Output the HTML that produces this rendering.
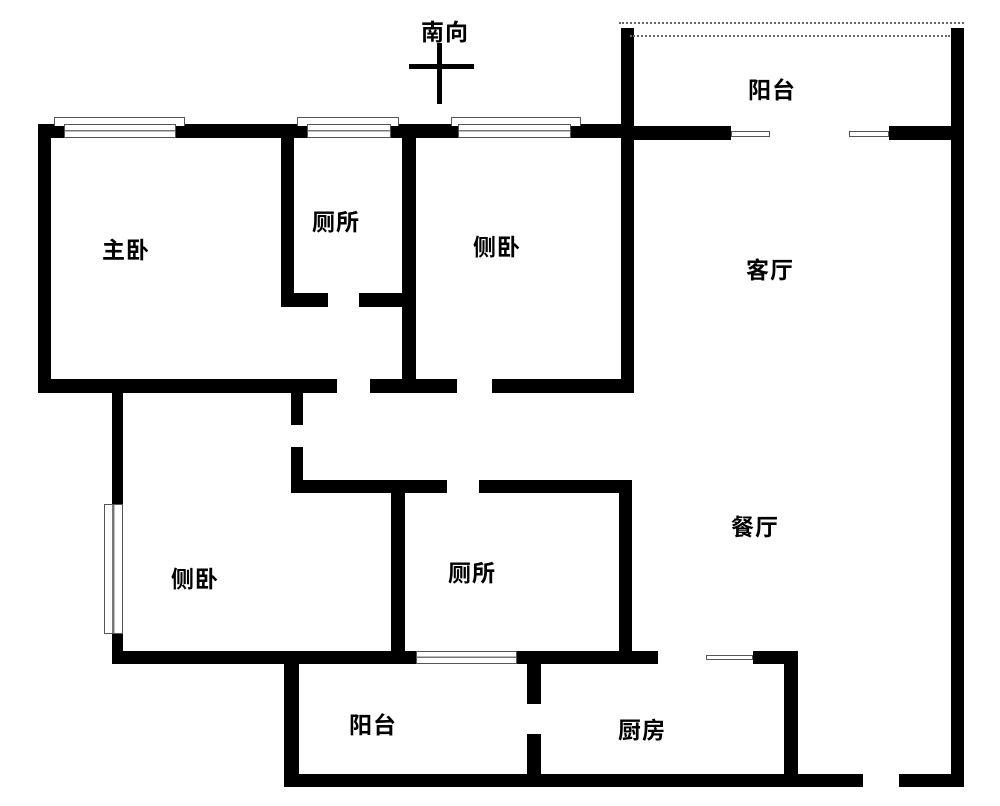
<!DOCTYPE html>
<html><head><meta charset="utf-8"><style>
body{margin:0;width:1000px;height:806px;background:#fff;position:relative;overflow:hidden;font-family:"Liberation Sans","Noto Sans CJK SC",sans-serif}
.w{position:absolute;background:#000}
.win{position:absolute;background:#fff;border:1px solid #555;box-sizing:border-box}
.win.h{background:linear-gradient(#fff 40%,#777 40%,#777 55%,#fff 55%)}
.win.v{background:linear-gradient(90deg,#fff 40%,#777 40%,#777 55%,#fff 55%)}
.t{position:absolute;font-size:23px;font-weight:bold;color:#000;transform:translate(-50%,-50%);white-space:nowrap;letter-spacing:1px}
.d{position:absolute;border-top:2px dotted #666}
</style></head><body>
<div class="w" style="left:38px;top:124px;width:593px;height:14px"></div>
<div class="w" style="left:626px;top:126px;width:105px;height:14px"></div>
<div class="w" style="left:889px;top:126px;width:66px;height:14px"></div>
<div class="win" style="left:54px;top:117px;width:131px;height:9px;border-bottom:none"></div>
<div class="win h" style="left:64px;top:124px;width:112px;height:14px"></div>
<div class="win" style="left:297px;top:117px;width:102px;height:9px;border-bottom:none"></div>
<div class="win h" style="left:307px;top:124px;width:84px;height:14px"></div>
<div class="win" style="left:451px;top:117px;width:130px;height:9px;border-bottom:none"></div>
<div class="win h" style="left:458px;top:124px;width:113px;height:14px"></div>
<div class="win" style="left:731px;top:131px;width:39px;height:6px"></div>
<div class="win" style="left:849px;top:131px;width:40px;height:6px"></div>
<div class="w" style="left:621px;top:28px;width:13px;height:365px"></div>
<div class="w" style="left:951px;top:28px;width:13px;height:759px"></div>
<div class="d" style="left:619px;top:22px;width:345px"></div>
<div class="d" style="left:630px;top:35px;width:320px"></div>
<div class="w" style="left:437px;top:43px;width:5px;height:61px"></div>
<div class="w" style="left:409px;top:64px;width:65px;height:5px"></div>
<div class="t" style="left:445px;top:30px">南向</div>
<div class="w" style="left:38px;top:124px;width:13px;height:269px"></div>
<div class="w" style="left:38px;top:379px;width:299px;height:14px"></div>
<div class="w" style="left:370px;top:379px;width:87px;height:14px"></div>
<div class="w" style="left:492px;top:379px;width:142px;height:14px"></div>
<div class="w" style="left:281px;top:137px;width:13px;height:170px"></div>
<div class="w" style="left:281px;top:293px;width:47px;height:14px"></div>
<div class="w" style="left:359px;top:293px;width:50px;height:14px"></div>
<div class="w" style="left:402px;top:137px;width:14px;height:256px"></div>
<div class="w" style="left:112px;top:393px;width:11px;height:271px"></div>
<div class="win v" style="left:104px;top:504px;width:19px;height:130px"></div>
<div class="w" style="left:291px;top:393px;width:12px;height:32px"></div>
<div class="w" style="left:291px;top:447px;width:12px;height:46px"></div>
<div class="w" style="left:291px;top:480px;width:156px;height:13px"></div>
<div class="w" style="left:479px;top:480px;width:153px;height:13px"></div>
<div class="w" style="left:391px;top:480px;width:14px;height:184px"></div>
<div class="w" style="left:619px;top:480px;width:13px;height:184px"></div>
<div class="w" style="left:112px;top:651px;width:546px;height:13px"></div>
<div class="win h" style="left:416px;top:651px;width:101px;height:13px"></div>
<div class="win" style="left:706px;top:655px;width:47px;height:5px"></div>
<div class="w" style="left:753px;top:651px;width:45px;height:13px"></div>
<div class="w" style="left:784px;top:651px;width:14px;height:136px"></div>
<div class="w" style="left:284px;top:664px;width:15px;height:123px"></div>
<div class="w" style="left:527px;top:664px;width:14px;height:40px"></div>
<div class="w" style="left:527px;top:734px;width:14px;height:53px"></div>
<div class="w" style="left:284px;top:774px;width:579px;height:13px"></div>
<div class="w" style="left:899px;top:774px;width:65px;height:13px"></div>
<div class="t" style="left:772px;top:88px">阳台</div>
<div class="t" style="left:126px;top:248px">主卧</div>
<div class="t" style="left:336px;top:220px">厕所</div>
<div class="t" style="left:497px;top:245px">侧卧</div>
<div class="t" style="left:770px;top:268px">客厅</div>
<div class="t" style="left:755px;top:525px">餐厅</div>
<div class="t" style="left:195px;top:577px">侧卧</div>
<div class="t" style="left:472px;top:571px">厕所</div>
<div class="t" style="left:373px;top:723px">阳台</div>
<div class="t" style="left:642px;top:728px">厨房</div>
</body></html>
